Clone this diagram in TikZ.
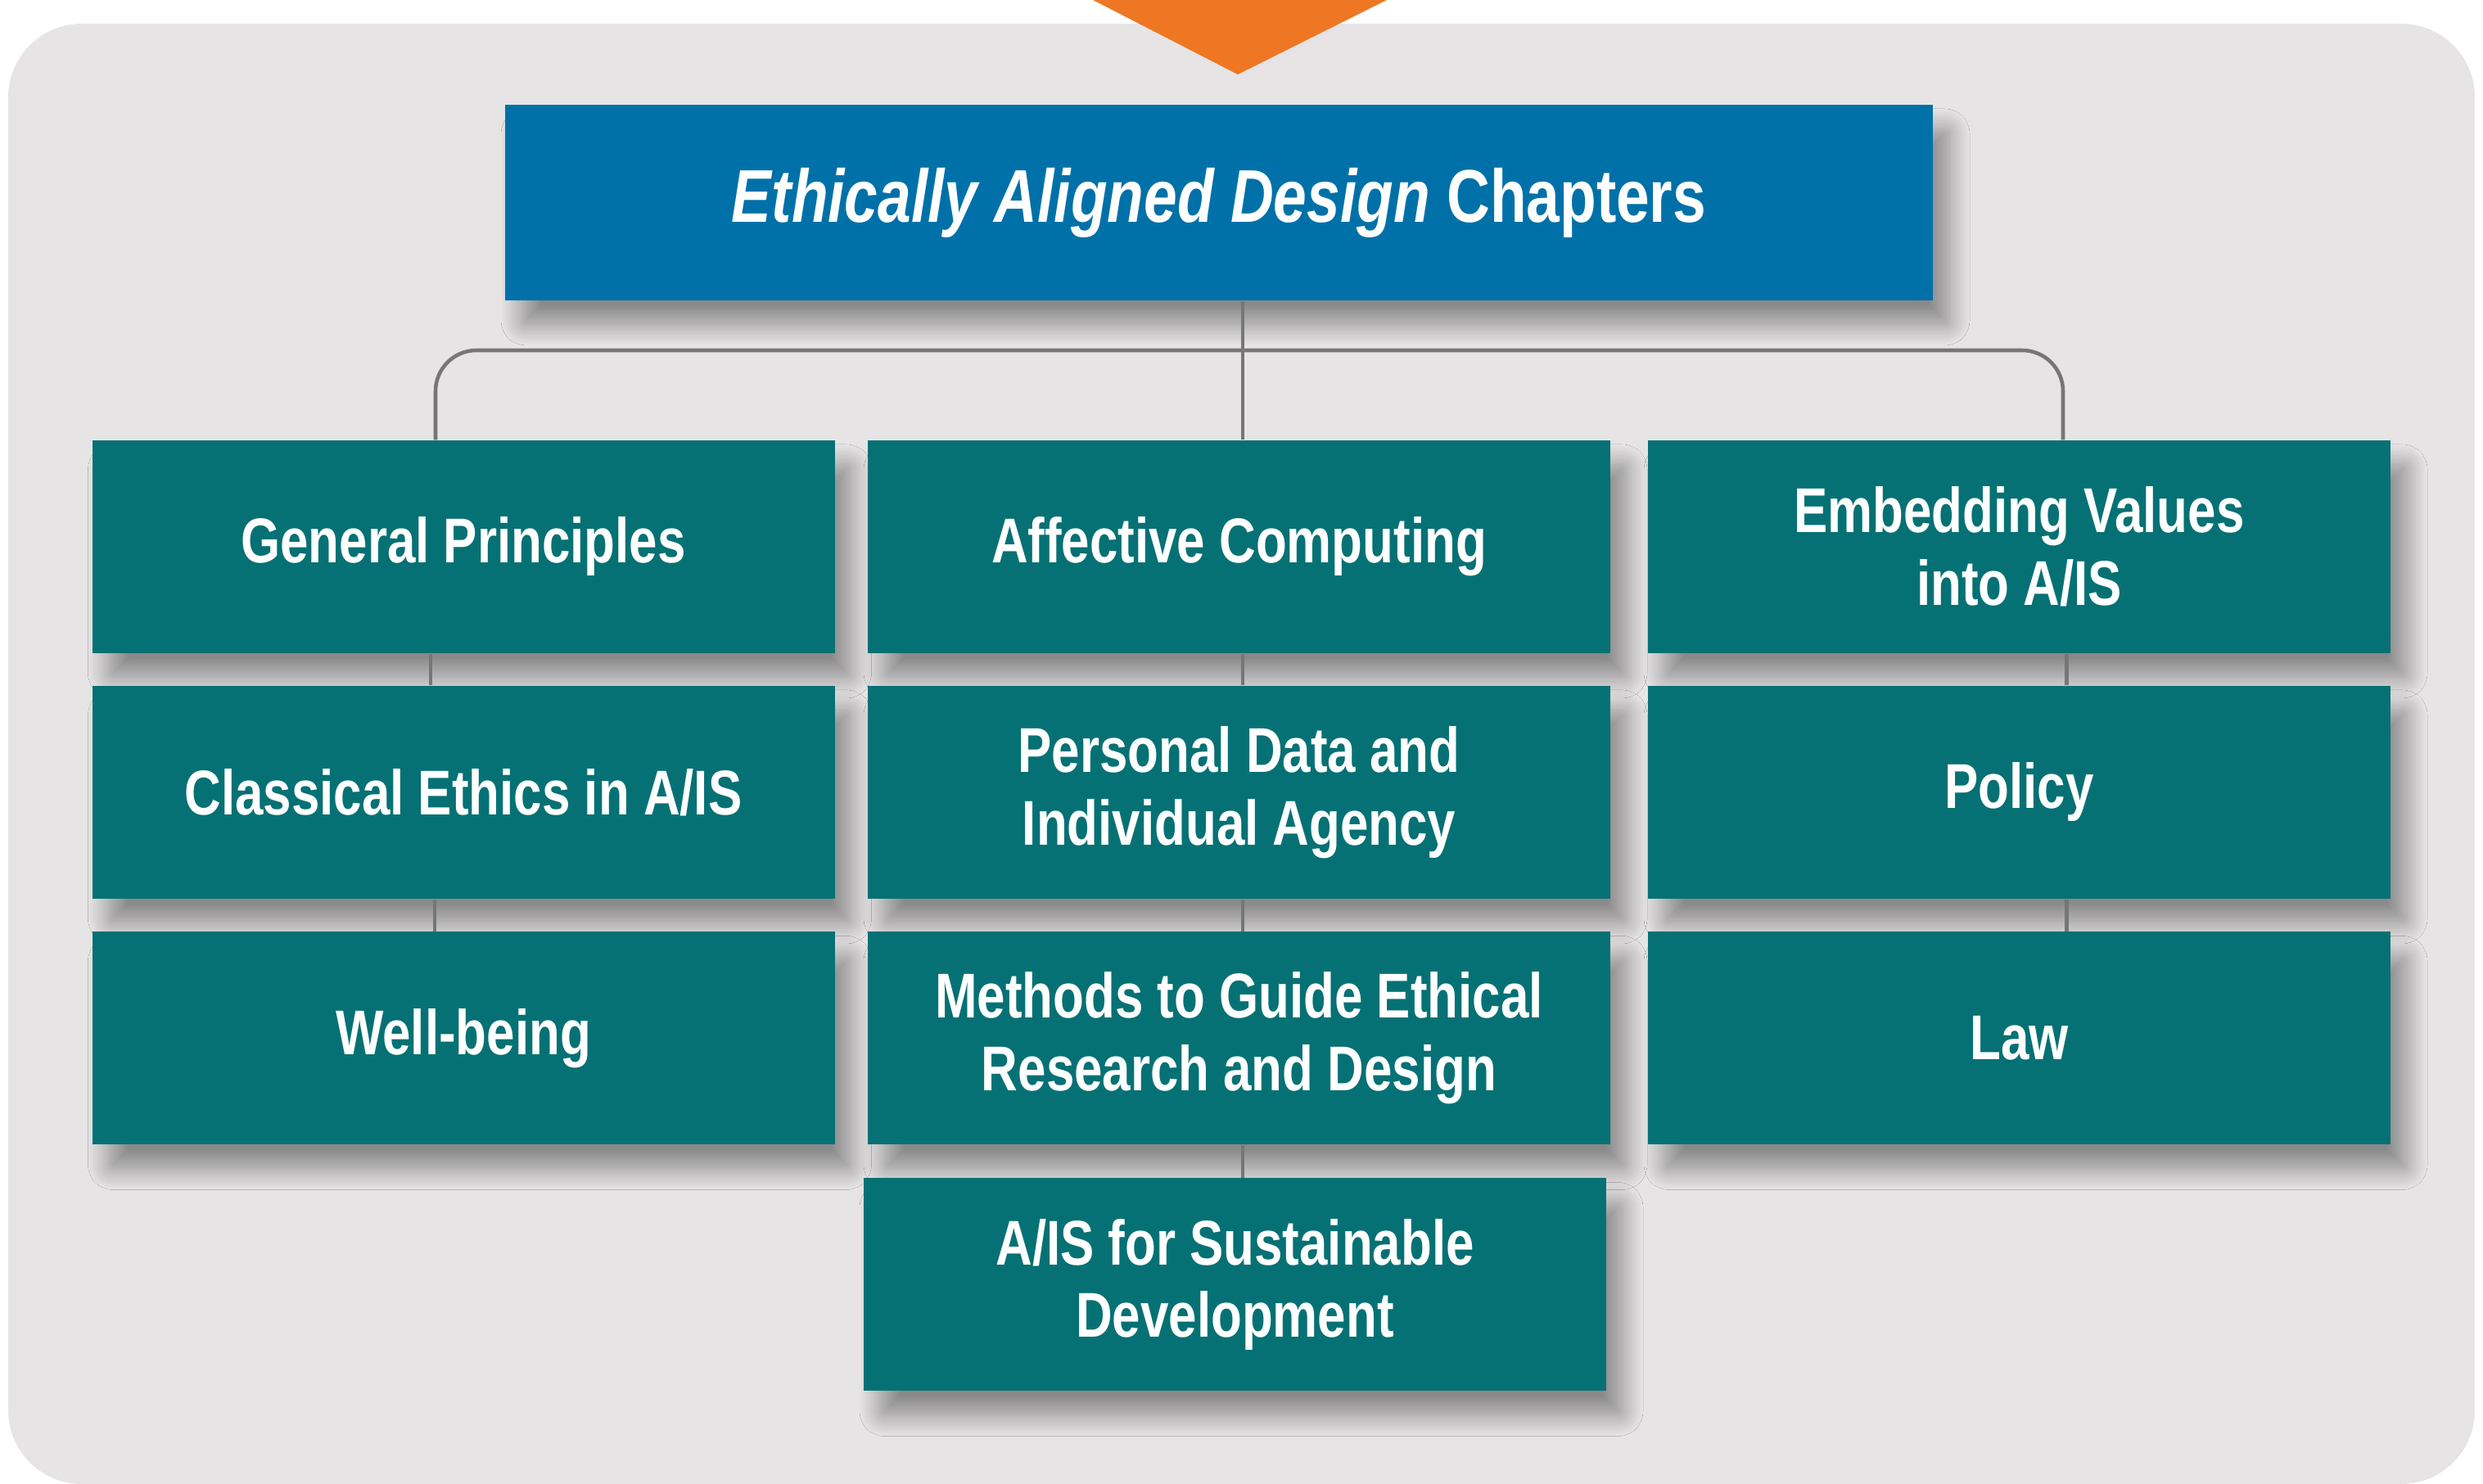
\documentclass[tikz,border=0pt]{standalone}
\usepackage{fontspec}
\setmainfont{Liberation Sans}[FakeStretch=0.8]
\usepackage{tikz}
\usetikzlibrary{shadows.blur}

\definecolor{panelgray}{HTML}{E6E4E5}
\definecolor{chapteal}{HTML}{067174}
\definecolor{headblue}{HTML}{0071A8}
\definecolor{markorange}{HTML}{EF7622}
\definecolor{linkgray}{HTML}{767676}

\tikzset{
  softshadow/.style={blur shadow={shadow xshift=2mm, shadow yshift=-3mm,
      shadow blur radius=2.5mm, shadow blur steps=20,
      shadow blur extra rounding=0.5mm, shadow opacity=40}},
  chapbox/.style={fill=chapteal, text=white, align=center, softshadow,
      minimum width=9.07cm, minimum height=2.6cm,
      font=\fontsize{22}{25.3}\selectfont\bfseries},
  headbox/.style={fill=headblue, text=white, align=center, softshadow,
      minimum width=17.44cm, minimum height=2.39cm,
      font=\fontsize{26}{30}\selectfont\bfseries},
  link/.style={draw=linkgray, line width=1.3pt}
}

\begin{document}
\begin{tikzpicture}
\useasboundingbox (0,0) rectangle (30.33,18.13);
\fill[panelgray, rounded corners=0.9cm] (0.10,0) rectangle (30.23,17.84);
\fill[markorange] (13.35,18.13) -- (16.94,18.13) -- (15.12,17.22) -- cycle;

\node at (14.89,15.655) (head) [headbox] {\textit{Ethically Aligned Design} Chapters};

\node at (5.66,11.45) (genprin) [chapbox] {General Principles};
\node at (5.66,8.45) (classic) [chapbox] {Classical Ethics in A/IS};
\node at (5.66,5.445) (wellb) [chapbox] {Well-being};

\node at (15.135,11.45) (affect) [chapbox] {Affective Computing};
\node at (15.135,8.45) (persdata) [chapbox] {Personal Data and\\Individual Agency};
\node at (15.135,5.445) (methods) [chapbox] {Methods to Guide Ethical\\Research and Design};
\node at (15.085,2.435) (sustain) [chapbox] {A/IS for Sustainable\\Development};

\node at (24.665,11.45) (embed) [chapbox] {Embedding Values\\into A/IS};
\node at (24.665,8.45) (policy) [chapbox] {Policy};
\node at (24.665,5.445) (law) [chapbox] {Law};

\coordinate (bus) at (15.18,13.85);

\draw[link] ([xshift=0.45mm]affect.north) -- ([xshift=0.45mm]affect.north |- head.south);
\draw[link, rounded corners=5mm] ([xshift=-3.4mm]genprin.north) |- (bus)
  -| ([xshift=5.35mm]embed.north);

\draw[link] ([xshift=-4mm]genprin.south) -- ([xshift=-4mm]classic.north);
\draw[link] ([xshift=-3.5mm]classic.south) -- ([xshift=-3.5mm]wellb.north);
\draw[link] ([xshift=0.45mm]affect.south) -- ([xshift=0.45mm]persdata.north);
\draw[link] ([xshift=0.45mm]persdata.south) -- ([xshift=0.45mm]methods.north);
\draw[link] ([xshift=0.45mm]methods.south) -- ([xshift=0.45mm]methods.south |- sustain.north);
\draw[link] ([xshift=5.8mm]embed.south) -- ([xshift=5.8mm]policy.north);
\draw[link] ([xshift=5.8mm]policy.south) -- ([xshift=5.8mm]law.north);
\end{tikzpicture}
\end{document}
